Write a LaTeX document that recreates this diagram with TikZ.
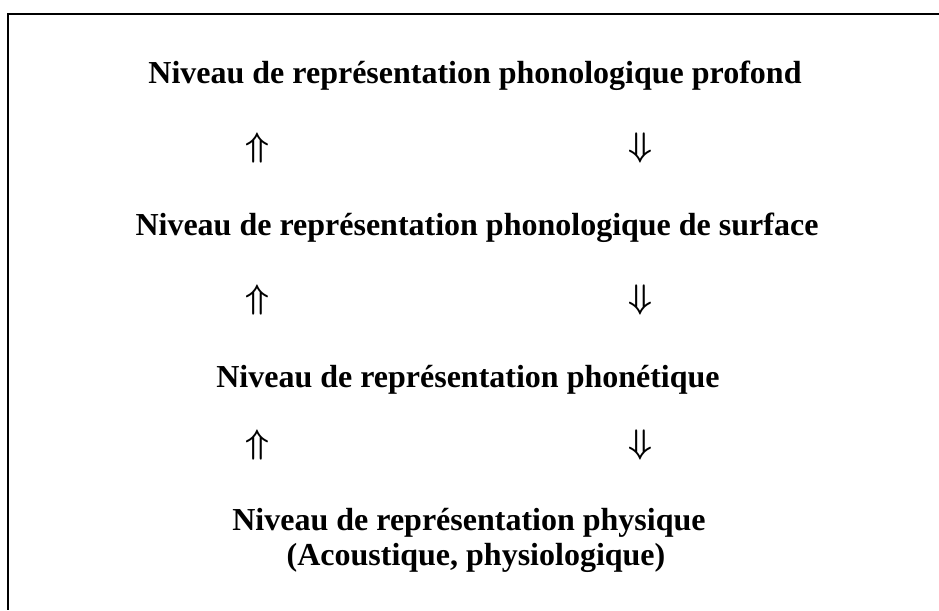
\documentclass[tikz,border=0pt]{standalone}
\usepackage{fontspec}
\setmainfont{Liberation Serif}
\usepackage{amssymb}
\usepackage{graphicx}

\newcommand{\upar}{\scalebox{3.4}{\boldmath$\Uparrow$}}
\newcommand{\downar}{\scalebox{3.4}{\boldmath$\Downarrow$}}

\begin{document}
\begin{tikzpicture}[x=1pt,y=-1pt]
% Stili
\tikzstyle{level} = [
    inner sep=0pt,
    anchor=base,
    font=\fontsize{32}{35}\selectfont\bfseries
]

\tikzstyle{arrow} = [
    inner sep=0pt
]

\useasboundingbox (0,0) rectangle (939,610);

% Cornice
\draw[line width=1.5pt] (939,14) -- (8,14) -- (8,610);

% Livelli
\node[level] (l1) at (475,83)
{Niveau de représentation phonologique profond};

\node[level] (l2) at (477,235)
{Niveau de représentation phonologique de surface};

\node[level] (l3) at (468,387)
{Niveau de représentation phonétique};

\node[level] (l4) at (469,530)
{Niveau de représentation physique};

\node[level] (l5) at (476,565)
{(Acoustique, physiologique)};

% Frecce
\node[arrow] (u1) at (257,148) {\upar};

\node[arrow] (d1) at (640,148) {\downar};

\node[arrow] (u2) at (257,300) {\upar};

\node[arrow] (d2) at (640,300) {\downar};

\node[arrow] (u3) at (257,445) {\upar};

\node[arrow] (d3) at (640,445) {\downar};

\end{tikzpicture}
\end{document}
